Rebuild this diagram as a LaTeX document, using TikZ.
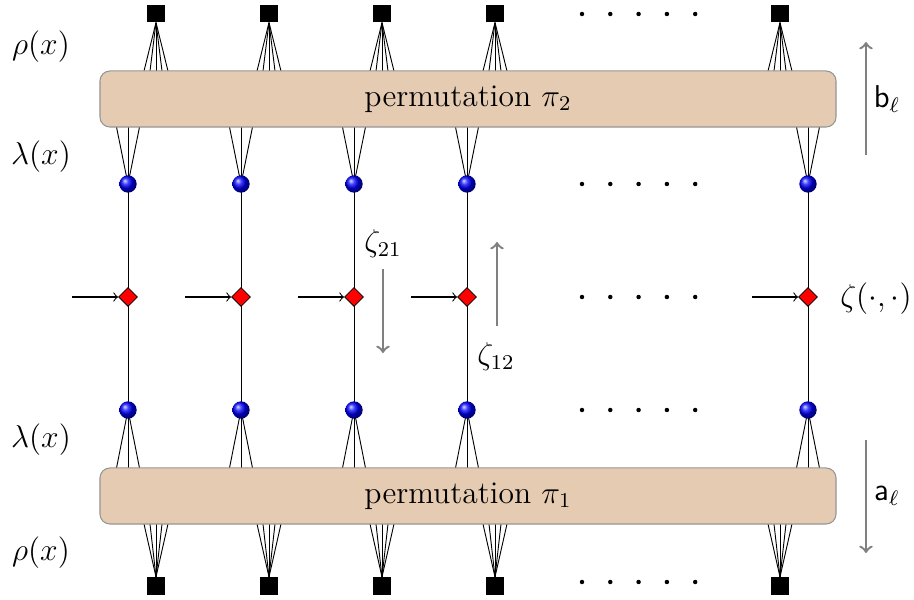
\documentclass[tikz,border=0pt]{standalone}
\usetikzlibrary{shapes.geometric,calc}
\definecolor{tanbox}{RGB}{228,203,177}
\definecolor{boxedge}{RGB}{150,150,150}
\definecolor{arrgray}{RGB}{128,128,128}
\begin{document}
\begin{tikzpicture}[x=0.38pt,y=-0.38pt,font=\large,
  sq/.style={rectangle,fill=black,inner sep=0pt,minimum size=6.5pt},
  ball/.style={circle,ball color=blue,inner sep=0pt,minimum size=6.6pt},
  dia/.style={diamond,fill=red,draw=black,line width=0.3pt,inner sep=0pt,minimum size=7.2pt},
  perm/.style={rectangle,rounded corners=3.8pt,fill=tanbox,draw=boxedge,line width=0.4pt,minimum width=279.7pt,minimum height=21.3pt,inner sep=0pt},
  fan/.style={black,line width=0.35pt},
  garrow/.style={arrgray,line width=0.9pt,->},
  lab/.style={inner sep=0pt},
  dot/.style={circle,fill=black,inner sep=0pt,minimum size=1.7pt}]
\useasboundingbox (0,0) rectangle (914,600);

% columns: ball x, square x
\foreach \i/\c/\s in {1/128/156,2/241/269,3/354/382,4/467/495,5/808/780}{
  \node[sq] (sT\i) at (\s,13.5) {};
  \node[sq] (sB\i) at (\s,586) {};
  \coordinate (bTc\i) at (\c,184);
  \coordinate (bBc\i) at (\c,410);
  \coordinate (dc\i) at (\c,297);
}

\path (468,99) coordinate (topc) (468,496) coordinate (botc);

% vertical lines and fans
\foreach \i in {1,...,5}{
  \draw[fan] (bTc\i) -- (bBc\i);
  \foreach \o in {-12,-6,0,6,12}{
    \draw[fan] (sT\i.south) -- ($(sT\i.south |- 0,71)+(\o,0)$);
    \draw[fan] (sB\i.north) -- ($(sB\i.north |- 0,524)+(\o,0)$);
  }
  \foreach \o in {-11.5,0,11.5}{
    \draw[fan] (bTc\i) -- ($(bTc\i |- 0,127)+(\o,0)$);
    \draw[fan] (bBc\i) -- ($(bBc\i |- 0,468)+(\o,0)$);
  }
}

\node[perm] (top) at (topc) {permutation $\pi_2$};
\node[perm] (bot) at (botc) {permutation $\pi_1$};

\foreach \i in {1,...,5}{
  \node[ball] (bT\i) at (bTc\i) {};
  \node[ball] (bB\i) at (bBc\i) {};
  \node[dia] (d\i) at (dc\i) {};
  \coordinate (in\i) at ($(dc\i)+(-56,0)$);
  \draw[->,line width=0.4pt] (in\i) -- (d\i.west);
}

% dots
\foreach \y/\r in {14/a,184/b,297/c,410/d,582/e}{
  \foreach \k in {0,...,4}{
    \node[dot] (dot\r\k) at (582+28.3*\k,\y) {};
  }
}

% left labels
\node[lab] (rhoT) at (41,47) {$\rho(x)$};
\node[lab] (lamT) at (41,157) {$\lambda(x)$};
\node[lab] (lamB) at (41,440) {$\lambda(x)$};
\node[lab] (rhoB) at (41,553) {$\rho(x)$};

% right side
\coordinate (bs) at (866,155);
\coordinate (be) at (866,42);
\draw[garrow] (bs) -- (be);
\node[lab] (bl) at (887,99) {$\mathsf{b}_\ell$};
\coordinate (as) at (866,440);
\coordinate (ae) at (866,553);
\draw[garrow] (as) -- (ae);
\node[lab] (al) at (887,496) {$\mathsf{a}_\ell$};
\node[lab] (zeta) at (876,299) {$\zeta(\cdot,\cdot)$};

% middle zeta arrows
\node[lab] (z21) at (383,244) {$\zeta_{21}$};
\coordinate (z21s) at (383,269);
\coordinate (z21e) at (383,353);
\draw[garrow] (z21s) -- (z21e);
\coordinate (z12s) at (497,326);
\coordinate (z12e) at (497,242);
\draw[garrow] (z12s) -- (z12e);
\node[lab] (z12) at (496,357) {$\zeta_{12}$};
\end{tikzpicture}
\end{document}
